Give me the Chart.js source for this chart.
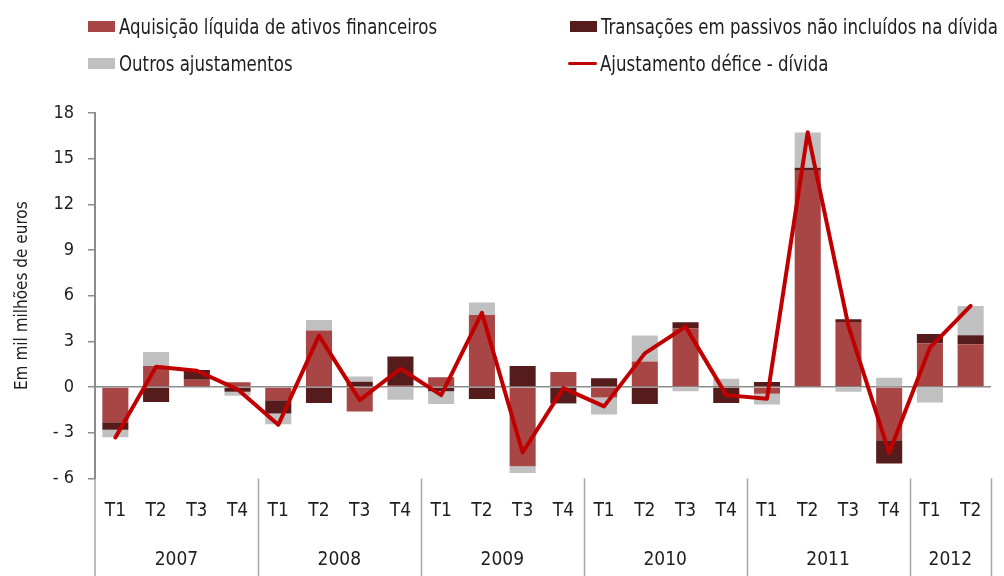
<!DOCTYPE html>
<html>
<head>
<meta charset="utf-8">
<script src="https://cdn.jsdelivr.net/npm/chart.js@4.4.1/dist/chart.umd.min.js"></script>
<style>
  body { margin: 0; background: #fff; }
  #wrap { position: relative; width: 1004px; height: 576px; overflow: hidden; }
  #legend { position: absolute; left: 0; top: 0; font-family: 'DejaVu Sans Condensed', 'DejaVu Sans', sans-serif; font-size: 22px; color: #1e1e1e; }
  .item { position: absolute; display: flex; align-items: center; white-space: nowrap; height: 24px; }
  .sw { width: 27px; height: 11px; margin-right: 4px; flex: none; }
  .ln { width: 29px; height: 3px; margin-right: 3px; border-radius: 2px; flex: none; }
  .txt { display: inline-block; transform: scaleX(0.84); transform-origin: left center; }
</style>
</head>
<body>
<div id="wrap">
  <canvas id="chart" width="1004" height="576"></canvas>
  <div id="legend"></div>
</div>
<script>
const FONT = "'DejaVu Sans Condensed', 'DejaVu Sans', sans-serif";

// categories
const quarters = ["T1","T2","T3","T4","T1","T2","T3","T4","T1","T2","T3","T4",
                  "T1","T2","T3","T4","T1","T2","T3","T4","T1","T2"];
const years = ["2007","2008","2009","2010","2011","2012"];
const quartersPerYear = [4, 4, 4, 4, 4, 2];

// series (mil milhões de euros)
const aquisicao = [-2.32, 1.38, 0.48, 0.31, -0.86, 3.71, -1.60, 0.09, 0.64, 4.74, -5.20, 0.99,
                   -0.68, 1.67, 3.86, 0.07, -0.44, 14.20, 4.28, -3.49, 2.87, 2.81];
const transacoes = [-0.48, -0.99, 0.64, -0.31, -0.88, -1.05, 0.35, 1.91, -0.28, -0.79, 1.38, -1.07,
                    0.57, -1.12, 0.39, -1.05, 0.33, 0.20, 0.18, -1.53, 0.61, 0.59];
const outros = [-0.50, 0.92, -0.07, -0.26, -0.70, 0.70, 0.35, -0.83, -0.83, 0.81, -0.44, -0.05,
                -1.12, 1.71, -0.28, 0.48, -0.70, 2.32, -0.31, 0.61, -1.01, 1.93];
const ajustamento = [-3.31, 1.34, 1.07, -0.15, -2.48, 3.38, -0.86, 1.20, -0.53, 4.87, -4.30, -0.07,
                     -1.27, 2.21, 3.97, -0.53, -0.77, 16.73, 4.00, -4.32, 2.59, 5.33];

// y axis ticks
const yTickLabels = ["- 6", "- 3", "0", "3", "6", "9", "12", "15", "18"];

// year centres / boundaries on the quarter index scale
const yearCenters = [];
const yearBounds = [-0.5];
let start = 0;
quartersPerYear.forEach(n => {
  yearCenters.push(start + (n - 1) / 2);
  start += n;
  yearBounds.push(start - 0.5);
});

// vertical separators between the years, below the plot
const separators = {
  id: "separators",
  afterDraw(chart) {
    const ctx = chart.ctx;
    const sc = chart.scales.years;
    ctx.save();
    ctx.strokeStyle = "#a6a6a6";
    ctx.lineWidth = 1.5;
    yearBounds.forEach((b, i) => {
      const x = Math.round(sc.getPixelForValue(b)) + (i === 0 ? 0 : 0.5);
      ctx.beginPath();
      ctx.moveTo(x, chart.chartArea.bottom);
      ctx.lineTo(x, chart.height);
      ctx.stroke();
    });
    ctx.restore();
  }
};

const chart = new Chart(document.getElementById("chart"), {
  data: {
    labels: quarters,
    datasets: [
      { type: "line", label: "Ajustamento défice - dívida", data: ajustamento, stack: "line",
        borderColor: "#c00000", backgroundColor: "#c00000", borderWidth: 4, pointRadius: 0,
        tension: 0, order: 0, borderCapStyle: "round", borderJoinStyle: "round" },
      { type: "bar", label: "Aquisição líquida de ativos financeiros", data: aquisicao, stack: "bars",
        backgroundColor: "#a84646", order: 1 },
      { type: "bar", label: "Transações em passivos não incluídos na dívida", data: transacoes, stack: "bars",
        backgroundColor: "#561c1c", order: 1 },
      { type: "bar", label: "Outros ajustamentos", data: outros, stack: "bars",
        backgroundColor: "#c0c0c0", order: 1 }
    ]
  },
  options: {
    responsive: false,
    animation: false,
    datasets: { bar: { barPercentage: 0.64, categoryPercentage: 1 } },
    layout: { padding: { left: 0, right: 13, top: 113, bottom: 0 } },
    plugins: { legend: { display: false }, tooltip: { enabled: false } },
    scales: {
      x: {
        stacked: true,
        grid: { display: false, drawTicks: false },
        border: { display: false },
        ticks: { color: "#1e1e1e", font: { family: FONT, size: 19 }, padding: 21,
                 maxRotation: 0, autoSkip: false }
      },
      years: {
        type: "linear",
        position: "bottom",
        min: -0.5,
        max: 21.5,
        grid: { display: false, drawTicks: false },
        border: { display: false },
        afterBuildTicks: (scale) => { scale.ticks = yearCenters.map(v => ({ value: v })); },
        ticks: { color: "#1e1e1e", font: { family: FONT, size: 19 }, padding: 5,
                 maxRotation: 0, autoSkip: false, callback: (v, i) => years[i] }
      },
      y: {
        stacked: true,
        min: -6,
        max: 18,
        afterFit: (scale) => { scale.width = 95; },
        ticks: { stepSize: 3, color: "#1e1e1e", font: { family: FONT, size: 18 }, padding: 14,
                 callback: (v, i) => yTickLabels[i] },
        grid: {
          color: (c) => (c.tick && c.tick.value === 0 ? "#8c8c8c" : "rgba(0,0,0,0)"),
          tickColor: "#8c8c8c",
          tickLength: 7,
          lineWidth: 1.5
        },
        border: { display: true, color: "#8c8c8c", width: 2 },
        title: { display: true, text: "Em mil milhões de euros", color: "#1e1e1e",
                 font: { family: FONT, size: 17 }, padding: { top: 12, bottom: 0 } }
      }
    }
  },
  plugins: [separators]
});

// html legend, two columns like the original
const legendPos = [
  { ds: 1, left: 88, top: 14 },
  { ds: 2, left: 570, top: 14 },
  { ds: 3, left: 88, top: 51 },
  { ds: 0, left: 568, top: 51 }
];
const legend = document.getElementById("legend");
legendPos.forEach(p => {
  const ds = chart.data.datasets[p.ds];
  const item = document.createElement("div");
  item.className = "item";
  item.style.left = p.left + "px";
  item.style.top = p.top + "px";
  const sw = document.createElement("span");
  sw.className = ds.type === "line" ? "ln" : "sw";
  sw.style.background = ds.type === "line" ? ds.borderColor : ds.backgroundColor;
  const txt = document.createElement("span");
  txt.className = "txt";
  txt.textContent = ds.label;
  item.appendChild(sw);
  item.appendChild(txt);
  legend.appendChild(item);
});
</script>
</body>
</html>
